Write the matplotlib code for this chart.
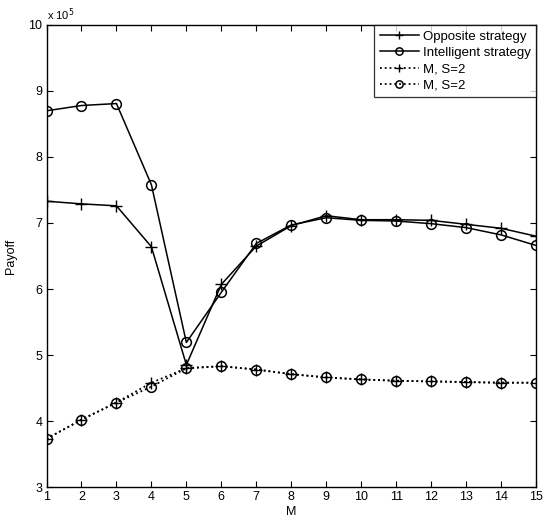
import matplotlib
matplotlib.use("Agg")
import matplotlib.pyplot as plt

plt.rcParams['font.family'] = ['Liberation Sans', 'DejaVu Sans']

M = list(range(1, 16))
opposite = [7.33, 7.29, 7.26, 6.64, 4.85, 6.07, 6.65, 6.96, 7.11, 7.05, 7.05, 7.04, 6.98, 6.92, 6.80]
intelligent = [8.70, 8.78, 8.81, 7.58, 5.19, 5.95, 6.69, 6.97, 7.08, 7.04, 7.03, 6.99, 6.93, 6.82, 6.66]
m_s2_plus = [3.73, 4.02, 4.28, 4.58, 4.80, 4.83, 4.78, 4.71, 4.66, 4.63, 4.61, 4.60, 4.59, 4.58, 4.58]
m_s2_circ = [3.73, 4.02, 4.28, 4.52, 4.80, 4.83, 4.78, 4.71, 4.66, 4.63, 4.61, 4.60, 4.59, 4.58, 4.58]

scale = 1e5

fig = plt.figure(figsize=(5.44, 5.24), dpi=100)
ax = fig.add_axes([0.0855, 0.0706, 0.8998, 0.8817])

ax.plot(M, [v * scale for v in opposite], color='black', lw=1.1, marker='+',
        ms=8, mew=1.0, label='Opposite strategy')
ax.plot(M, [v * scale for v in intelligent], color='black', lw=1.1, marker='o',
        ms=7, mfc='none', mew=1.1, label='Intelligent strategy')
ax.plot(M, [v * scale for v in m_s2_plus], color='black', lw=1.3, ls=':', marker='+',
        ms=8, mew=1.0, label='M, S=2')
ax.plot(M, [v * scale for v in m_s2_circ], color='black', lw=1.3, ls=':', marker='o',
        ms=7, mfc='none', mew=1.1, label='M, S=2')

ax.set_xlim(1, 15)
ax.set_ylim(3e5, 10e5)
ax.set_xticks(M)
ax.set_yticks([i * scale for i in range(3, 11)])
ax.set_yticklabels([str(i) for i in range(3, 11)])
ax.tick_params(direction='in', top=True, right=True, labelsize=9, length=4, pad=3)
ax.text(0.0, 1.005, r'x 10$^5$', transform=ax.transAxes, fontsize=8, va='bottom', ha='left')

ax.set_xlabel('M', fontsize=9, labelpad=2)
ax.set_ylabel('Payoff', fontsize=9, labelpad=8)

# легенда в правом верхнем углу
leg = ax.legend(loc='upper right', fontsize=9.5, frameon=True, fancybox=False,
                edgecolor='black', borderaxespad=0.0, handlelength=3.0,
                borderpad=0.42, labelspacing=0.3, handletextpad=0.25,
                markerscale=0.75)
leg.get_frame().set_linewidth(0.9)

for s in ax.spines.values():
    s.set_linewidth(1.0)

fig.savefig("out.png", dpi=100)
